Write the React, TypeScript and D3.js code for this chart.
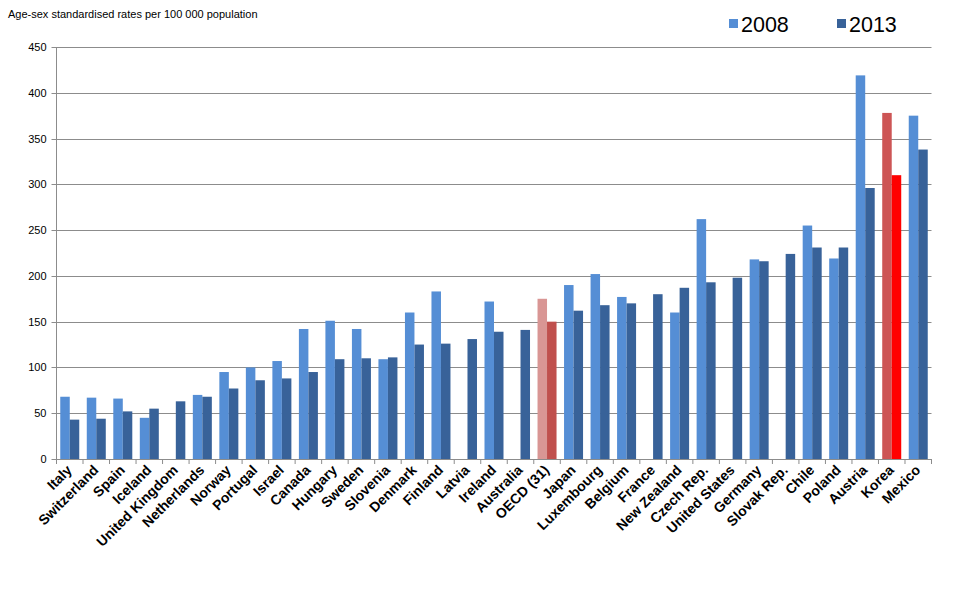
import React from "react";
import * as d3 from "d3";

const categories = ["Italy","Switzerland","Spain","Iceland","United Kingdom","Netherlands","Norway","Portugal","Israel","Canada","Hungary","Sweden","Slovenia","Denmark","Finland","Latvia","Ireland","Australia","OECD (31)","Japan","Luxembourg","Belgium","France","New Zealand","Czech Rep.","United States","Germany","Slovak Rep.","Chile","Poland","Austria","Korea","Mexico"];
const values2008: (number | null)[] = [68,67,66,45,null,70,95,100,107,142,151,142,109,160,183,null,172,null,175,190,202,177,null,160,262,null,218,null,255,219,419,378,375];
const values2013: (number | null)[] = [43,44,52,55,63,68,77,86,88,95,109,110,111,125,126,131,139,141,150,162,168,170,180,187,193,198,216,224,231,231,296,310,338];
const yTicks = [0,50,100,150,200,250,300,350,400,450];
const seriesNames = ["2008","2013"];

const C2008 = "#558ED5";
const C2013 = "#386299";
const highlight: Record<string, [string, string]> = {
  "OECD (31)": ["#D99694", "#C0504D"],
  "Korea": ["#CD5555", "#FF0000"],
};

export default function App() {
  const W = 960, H = 600;
  const left = 56.5, right = 931.5, top = 47, bottom = 459;
  const x = d3.scaleBand<string>().domain(categories).range([left, right]).paddingInner(0).paddingOuter(0);
  const y = d3.scaleLinear().domain([0, 450]).range([bottom, top]);
  const bw = 9.5;
  const font = "Arial, 'Liberation Sans', sans-serif";

  return (
    <svg width={W} height={H} style={{ position: "absolute", left: 0, top: 0, background: "#fff" }} fontFamily={font}>
      <rect x={0} y={0} width={W} height={H} fill="#fff" />
      <text x={8} y={18} fontSize={11} fill="#000" letterSpacing={0}>Age-sex standardised rates per 100 000 population</text>
      {seriesNames.map((s, i) => {
        const lx = i === 0 ? 729 : 837;
        return (
          <g key={s}>
            <rect x={lx} y={19} width={9} height={9} fill={i === 0 ? C2008 : C2013} />
            <text x={lx + 12} y={32} fontSize={21.5} fill="#000">{s}</text>
          </g>
        );
      })}
      {yTicks.map(t => (
        <g key={t}>
          {t > 0 && <line x1={left} x2={right} y1={Math.round(y(t)) + 0.5} y2={Math.round(y(t)) + 0.5} stroke="#8c8c8c" strokeWidth={1} />}
          <line x1={left - 5} x2={left} y1={Math.round(y(t)) + 0.5} y2={Math.round(y(t)) + 0.5} stroke="#8c8c8c" strokeWidth={1} />
          <text x={left - 10} y={y(t) + 4} fontSize={11} textAnchor="end" fill="#000">{t}</text>
        </g>
      ))}
      {categories.map((c, i) => {
        const cx = (x(c) as number) + x.bandwidth() / 2;
        const cols = highlight[c] || [C2008, C2013];
        const v1 = values2008[i], v2 = values2013[i];
        return (
          <g key={c}>
            {v1 != null && <rect x={cx - bw} y={y(v1)} width={bw} height={y(0) - y(v1)} fill={cols[0]} />}
            {v2 != null && <rect x={cx} y={y(v2)} width={bw} height={y(0) - y(v2)} fill={cols[1]} />}
          </g>
        );
      })}
      <line x1={left} x2={left} y1={top} y2={bottom} stroke="#8c8c8c" />
      <line x1={left} x2={right} y1={bottom + 0.5} y2={bottom + 0.5} stroke="#8c8c8c" />
      {categories.map(c => (
        <line key={"t" + c} x1={x(c) as number} x2={x(c) as number} y1={bottom} y2={bottom + 5} stroke="#8c8c8c" />
      ))}
      <line x1={right} x2={right} y1={bottom} y2={bottom + 5} stroke="#8c8c8c" />
      {categories.map(c => {
        const cx = (x(c) as number) + x.bandwidth() / 2 + 3;
        const ty = bottom + 12;
        return (
          <text key={"l" + c} x={cx} y={ty} fontSize={14} fontWeight="bold" textAnchor="end" fill="#000"
            transform={`rotate(-45, ${cx}, ${ty})`}>{c}</text>
        );
      })}
    </svg>
  );
}
